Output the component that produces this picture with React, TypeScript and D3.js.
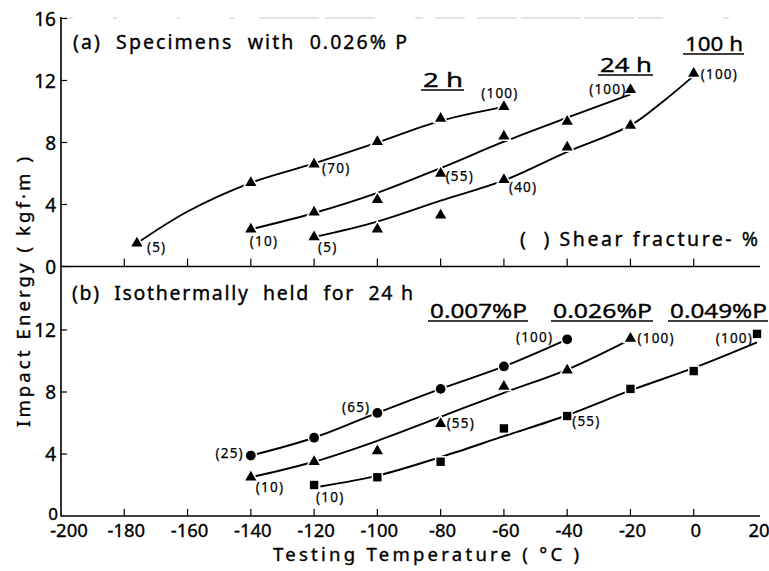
import React from 'react';
import * as d3 from 'd3';

// ---------- data ----------
const tempTicks = [-200, -180, -160, -140, -120, -100, -80, -60, -40, -20, 0, 20];
const tickMarkTemps = [-180, -160, -140, -120, -100, -80, -60, -40, -20, 0];
const energyTicksTop = [0, 4, 8, 12, 16];
const energyTicksBottom = [4, 8, 12];

// Panel (a): specimens with 0.026% P, held 2 h / 24 h / 100 h
const a2hT = [-176, -140, -120, -100, -80, -60];
const a2hE = [1.5, 5.4, 6.6, 8.05, 9.55, 10.3];
const a2hFitT = [-176, -160, -140, -120, -100, -80, -60];
const a2hFitE = [1.5, 3.55, 5.4, 6.65, 8.0, 9.4, 10.3];
const a2hShear = ['(5)', '', '(70)', '', '', '(100)'];

const a24hT = [-140, -120, -100, -80, -60, -40, -20];
const a24hE = [2.4, 3.5, 4.3, 6.0, 8.4, 9.35, 11.4];
const a24hFitT = [-140, -120, -100, -80, -60, -40, -20];
const a24hFitE = [2.4, 3.45, 4.75, 6.35, 8.05, 9.6, 11.1];
const a24hShear = ['(10)', '', '', '(55)', '', '', '(100)'];

const a100hT = [-120, -100, -80, -60, -40, -20, 0];
const a100hE = [1.9, 2.4, 3.3, 5.6, 7.7, 9.1, 12.45];
const a100hFitT = [-120, -100, -80, -60, -40, -20, -10, 0];
const a100hFitE = [1.9, 2.9, 4.25, 5.55, 7.4, 9.1, 10.6, 12.3];
const a100hShear = ['(5)', '', '', '(40)', '', '', '(100)'];

// Panel (b): isothermally held for 24 h
const b007T = [-140, -120, -100, -80, -60, -40];
const b007E = [3.9, 5.05, 6.65, 8.2, 9.65, 11.4];
const b007FitT = [-140, -120, -100, -80, -60, -40];
const b007FitE = [3.9, 5.05, 6.65, 8.2, 9.65, 11.4];
const b007Shear = ['(25)', '', '(65)', '', '', '(100)'];

const b026T = [-140, -120, -100, -80, -60, -40, -20];
const b026E = [2.5, 3.5, 4.2, 5.95, 8.35, 9.4, 11.45];
const b026FitT = [-140, -120, -100, -80, -60, -40, -20];
const b026FitE = [2.5, 3.5, 4.85, 6.4, 7.95, 9.45, 11.4];
const b026Shear = ['(10)', '', '', '(55)', '', '', '(100)'];

const b049T = [-120, -100, -80, -60, -40, -20, 0, 20];
const b049E = [2.0, 2.5, 3.5, 5.65, 6.45, 8.2, 9.35, 11.75];
const b049FitT = [-118, -100, -80, -60, -40, -20, 0, 20];
const b049FitE = [1.9, 2.6, 3.8, 5.15, 6.5, 8.1, 9.55, 11.2];
const b049Shear = ['(10)', '', '', '', '(55)', '', '', '(100)'];

// ---------- layout ----------
const FONT = "'Noto Sans', 'DejaVu Sans', sans-serif";
const x = d3.scaleLinear().domain([-200, 20]).range([61, 757]);
const yTop = d3.scaleLinear().domain([0, 16]).range([266.5, 18.5]);
const yBot = d3.scaleLinear().domain([0, 16]).range([516, 268]);

type LabelPos = { dx: number; dy: number; anchor: 'start' | 'middle' | 'end' };
const L = (dx: number, dy: number, anchor: 'start' | 'middle' | 'end' = 'start'): LabelPos => ({ dx, dy, anchor });

const a2hLab = [L(10, 4), null, L(8, 4), null, null, L(-4, -14, 'middle')];
const a24hLab = [L(-1, 12), null, null, L(5, 2), null, null, L(-4, -1, 'end')];
const a100hLab = [L(4, 10), null, null, L(5, 7), null, null, L(7, 0)];
const b007Lab = [L(-7, -3, 'end'), null, L(-7, -6, 'end'), null, null, L(-14, -2, 'end')];
const b026Lab = [L(5, 10), null, null, L(6, -1), null, null, L(7, -1)];
const b049Lab = [L(2, 12), null, null, null, L(5, 5), null, null, L(-4, 4, 'end')];

type Series = {
  T: number[]; E: number[]; fitT: number[]; fitE: number[]; shear: string[];
  lab: (LabelPos | null)[]; shape: d3.SymbolType; size: number;
};

const panelA: Series[] = [
  { T: a2hT, E: a2hE, fitT: a2hFitT, fitE: a2hFitE, shear: a2hShear, lab: a2hLab, shape: d3.symbolTriangle, size: 55 },
  { T: a24hT, E: a24hE, fitT: a24hFitT, fitE: a24hFitE, shear: a24hShear, lab: a24hLab, shape: d3.symbolTriangle, size: 55 },
  { T: a100hT, E: a100hE, fitT: a100hFitT, fitE: a100hFitE, shear: a100hShear, lab: a100hLab, shape: d3.symbolTriangle, size: 55 },
];
const panelB: Series[] = [
  { T: b007T, E: b007E, fitT: b007FitT, fitE: b007FitE, shear: b007Shear, lab: b007Lab, shape: d3.symbolCircle, size: 75 },
  { T: b026T, E: b026E, fitT: b026FitT, fitE: b026FitE, shear: b026Shear, lab: b026Lab, shape: d3.symbolTriangle, size: 55 },
  { T: b049T, E: b049E, fitT: b049FitT, fitE: b049FitE, shear: b049Shear, lab: b049Lab, shape: d3.symbolSquare, size: 70 },
];

const TXT = { fontFamily: FONT, fill: '#000', stroke: '#000', strokeWidth: 0.35 } as const;

function SeriesG({ s, y }: { s: Series; y: d3.ScaleLinear<number, number> }) {
  const line = d3.line<number>().x((_, i) => x(s.fitT[i])).y((e) => y(e)).curve(d3.curveCatmullRom.alpha(0.5));
  const sym = d3.symbol(s.shape, s.size);
  return (
    <g>
      <path d={line(s.fitE) || ''} fill="none" stroke="#000" strokeWidth={1.9} />
      {s.T.map((t, i) => (
        <path key={'m' + i} d={sym() || ''} transform={`translate(${x(t)},${y(s.E[i])})`}
          fill="#000" stroke="#fff" strokeWidth={3} style={{ paintOrder: 'stroke' }} />
      ))}
      {s.T.map((t, i) => {
        const p = s.lab[i];
        if (!p || !s.shear[i]) return null;
        return (
          <text key={'l' + i} x={x(t) + p.dx} y={y(s.E[i]) + p.dy} textAnchor={p.anchor}
            dominantBaseline="central" fontSize={13.5} letterSpacing={1.2} {...TXT} strokeWidth={0.25}>
            {s.shear[i]}
          </text>
        );
      })}
    </g>
  );
}

function Underlined({ text, x0, x1, base, size }: { text: string; x0: number; x1: number; base: number; size: number }) {
  return (
    <g>
      <text x={x0} y={base} fontSize={size} {...TXT} textLength={x1 - x0} lengthAdjust="spacingAndGlyphs">{text}</text>
      <line x1={x0 - 2} x2={x1 + 1} y1={base + 3} y2={base + 3} stroke="#000" strokeWidth={1.3} />
    </g>
  );
}

export default function App() {
  const axisX0 = x(-200);
  const axisX1 = 760;
  return (
    <svg width={769} height={571} style={{ position: 'absolute', left: 0, top: 0, background: '#fff' }}>
      <rect width={769} height={571} fill="#fff" />
      {/* frame */}
      <line x1={axisX0} x2={axisX1} y1={18} y2={18} stroke="#bbb" strokeWidth={0.8} strokeDasharray="12 40 4 60 3 50 4 25 60 6 50 40 8 12 30" />
      <line x1={axisX0} x2={axisX0} y1={17} y2={516.5} stroke="#000" strokeWidth={1.6} />
      <line x1={axisX0} x2={axisX1} y1={yTop(0)} y2={yTop(0)} stroke="#000" strokeWidth={1.6} />
      <line x1={axisX0} x2={axisX1} y1={yBot(0)} y2={yBot(0)} stroke="#000" strokeWidth={1.6} />

      {/* x ticks */}
      {tickMarkTemps.map((t) => (
        <g key={'xt' + t}>
          <line x1={x(t)} x2={x(t)} y1={yTop(0)} y2={yTop(0) - 8} stroke="#000" strokeWidth={1.2} />
          <line x1={x(t)} x2={x(t)} y1={yBot(0)} y2={yBot(0) - 7} stroke="#000" strokeWidth={1.2} />
        </g>
      ))}
      {tempTicks.map((t) => (
        <text key={'xl' + t} x={t === -200 ? x(t) + 8 : x(t) + 2} y={537} textAnchor="middle" fontSize={18.5} {...TXT}>{t}</text>
      ))}

      {/* y ticks */}
      {energyTicksTop.map((e) => (
        <g key={'yt' + e}>
          <line x1={axisX0} x2={axisX0 + 6} y1={yTop(e)} y2={yTop(e)} stroke="#000" strokeWidth={1.2} />
          <text x={56} y={yTop(e)} textAnchor="end" dominantBaseline="central" fontSize={19} {...TXT}>{e}</text>
        </g>
      ))}
      {energyTicksBottom.map((e) => (
        <g key={'yb' + e}>
          <line x1={axisX0} x2={axisX0 + 6} y1={yBot(e)} y2={yBot(e)} stroke="#000" strokeWidth={1.2} />
          <text x={56} y={yBot(e)} textAnchor="end" dominantBaseline="central" fontSize={19} {...TXT}>{e}</text>
        </g>
      ))}
      <text x={58} y={520} textAnchor="end" fontSize={17} {...TXT}>0</text>

      {/* axis titles */}
      <text transform={`translate(30,292) rotate(-90)`} textAnchor="middle" fontSize={18.5} {...TXT}
        textLength={270} lengthAdjust="spacing">Impact Energy ( kgf·m )</text>
      <text x={273} y={561} fontSize={18.5} {...TXT} textLength={306} lengthAdjust="spacing">Testing Temperature ( °C )</text>

      {/* panel a */}
      <text x={73} y={49} fontSize={19.5} {...TXT} textLength={334} lengthAdjust="spacing" xmlSpace="preserve">(a)  Specimens  with  0.026% P</text>
      {panelA.map((s, i) => <SeriesG key={'a' + i} s={s} y={yTop} />)}
      <Underlined text="2 h" x0={423} x1={463} base={87} size={20} />
      <Underlined text="24 h" x0={600} x1={652} base={72} size={20} />
      <Underlined text="100 h" x0={685} x1={743} base={51} size={20} />
      <text x={520} y={246} fontSize={19.5} {...TXT} textLength={238} lengthAdjust="spacing" xmlSpace="preserve">(  ) Shear fracture- %</text>

      {/* panel b */}
      <text x={72} y={300} fontSize={19.5} {...TXT} textLength={341} lengthAdjust="spacing" xmlSpace="preserve">(b)  Isothermally  held  for  24 h</text>
      {panelB.map((s, i) => <SeriesG key={'b' + i} s={s} y={yBot} />)}
      <Underlined text="0.007%P" x0={430} x1={527} base={318} size={20} />
      <Underlined text="0.026%P" x0={553} x1={652} base={318} size={20} />
      <Underlined text="0.049%P" x0={670} x1={767} base={318} size={20} />
    </svg>
  );
}
